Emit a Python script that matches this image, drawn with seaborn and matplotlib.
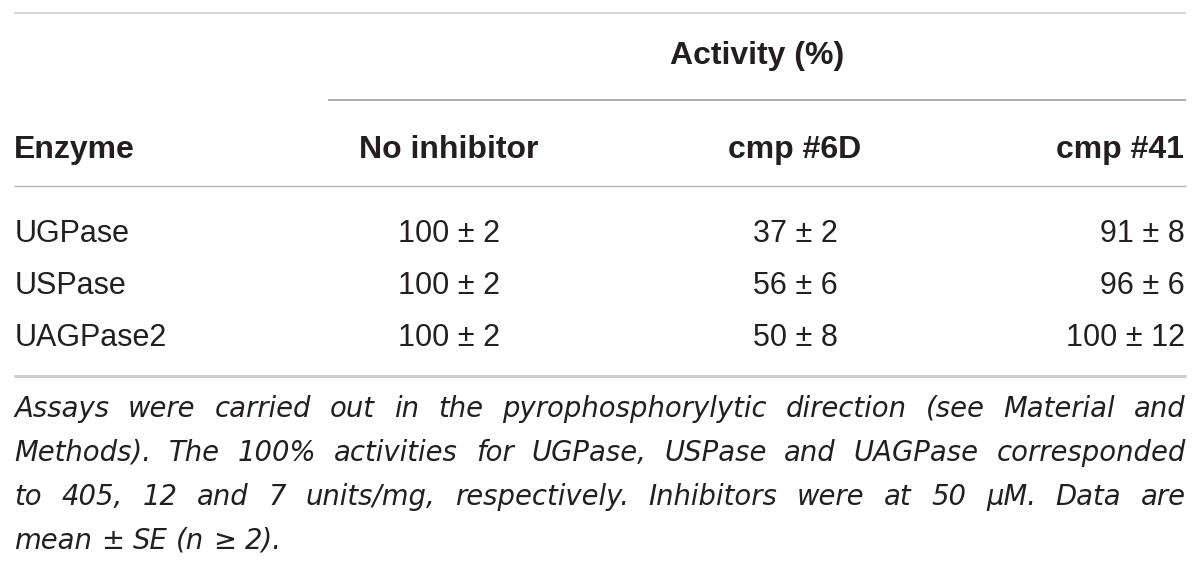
import matplotlib
matplotlib.use('Agg')
import matplotlib.pyplot as plt
import seaborn as sns

#-- Table data:

enzymes = ['UGPase', 'USPase', 'UAGPase2']
columns = ['No inhibitor', 'cmp #6D', 'cmp #41']
no_inhibitor_mean = [100, 100, 100]
no_inhibitor_se = [2, 2, 2]
cmp6d_mean = [37, 56, 50]
cmp6d_se = [2, 6, 8]
cmp41_mean = [91, 96, 100]
cmp41_se = [8, 6, 12]

footnote = [
    'Assays were carried out in the pyrophosphorylytic direction (see Material and',
    'Methods). The 100% activities for UGPase, USPase and UAGPase corresponded',
    'to 405, 12 and 7 units/mg, respectively. Inhibitors were at 50 \u03bcM. Data are',
    'mean \u00b1 SE (n \u2265 2).',
]

#-- Style:

sns.set_theme(style='white')
plt.rcParams['font.family'] = ['Liberation Sans', 'DejaVu Sans']

ink = '#231f20'
left, right = 14, 1186
foot_font = dict(fontsize=19.8, style='italic', family=['DejaVu Sans'], color=ink)

fig = plt.figure(figsize=(12, 5.66), dpi=100)
ax = fig.add_axes([0, 0, 1, 1])
ax.set_xlim(0, 1200)
ax.set_ylim(566, 0)
ax.axis('off')

#- Rules:

ax.hlines(13, left, right, color='#d6d6d6', lw=1.3)
ax.hlines(100, 328, right, color='#a8a8a8', lw=1.3)
ax.hlines(186, left, right, color='#b4b4b4', lw=1.0)
ax.hlines(376, left, right, color='#cccccc', lw=2.2)

#- Header:

ax.text(757, 64, 'Activity (%)', ha='center', va='baseline', fontsize=23, fontweight='bold', color=ink)
ax.text(left, 158, 'Enzyme', ha='left', va='baseline', fontsize=23, fontweight='bold', color=ink)
col_x = [449, 795, 1184]
col_ha = ['center', 'center', 'right']
for name, x, ha in zip(columns, col_x, col_ha):
    ax.text(x, 158, name, ha=ha, va='baseline', fontsize=23, fontweight='bold', color=ink)

#- Body:

series = [(no_inhibitor_mean, no_inhibitor_se), (cmp6d_mean, cmp6d_se), (cmp41_mean, cmp41_se)]
row_y = [242, 294, 346]
for i, enz in enumerate(enzymes):
    ax.text(left + 1, row_y[i], enz, ha='left', va='baseline', fontsize=22, color=ink)
    for (means, ses), x, ha in zip(series, col_x, col_ha):
        xx = x + 1 if ha == 'right' else x
        ax.text(xx, row_y[i], f'{means[i]} \u00b1 {ses[i]}', ha=ha, va='baseline', fontsize=22, color=ink)

#- Footnote (justified):

foot_y = [417, 461, 505, 549]
word_texts = []
for line, y in zip(footnote, foot_y):
    words = line.split(' ')
    word_texts.append([ax.text(0, y, w, ha='left', va='baseline', **foot_font) for w in words])

fig.canvas.draw()
renderer = fig.canvas.get_renderer()
probe2 = ax.text(0, 0, 'a a', **foot_font)
probe1 = ax.text(0, 0, 'a', **foot_font)
space = probe2.get_window_extent(renderer).width - 2 * probe1.get_window_extent(renderer).width
probe1.remove()
probe2.remove()

for k, texts in enumerate(word_texts):
    widths = [t.get_window_extent(renderer).width for t in texts]
    if k < len(word_texts) - 1:
        gap = (right - left - sum(widths)) / (len(texts) - 1)
    else:
        gap = space
    x = left
    for t, w in zip(texts, widths):
        t.set_x(x)
        x += w + gap

plt.savefig('out.png', dpi=100)
